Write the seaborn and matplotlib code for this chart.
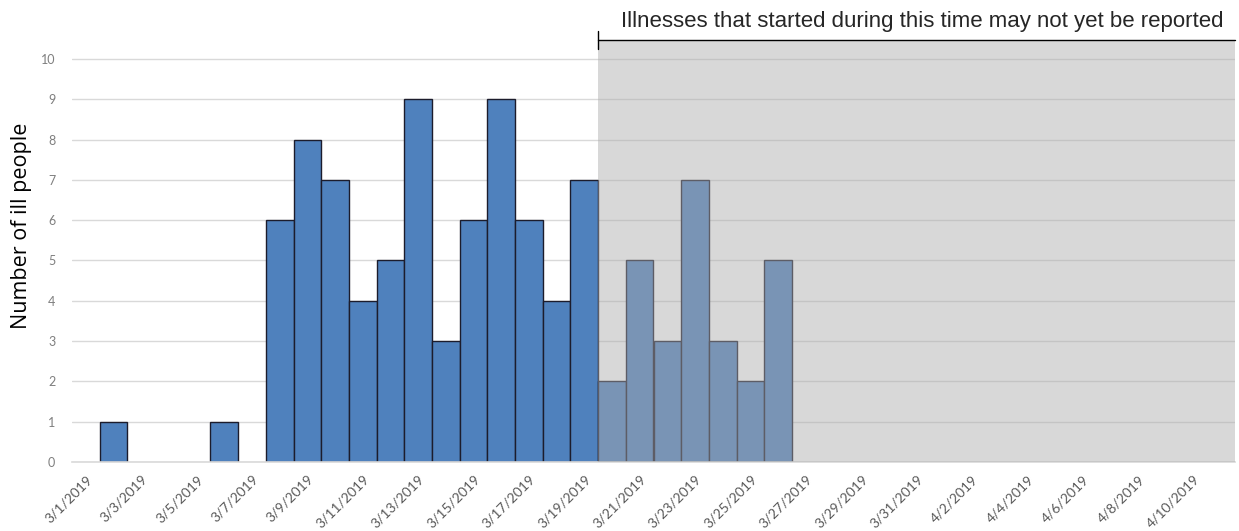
import numpy as np
import pandas as pd
import seaborn as sns
import matplotlib.pyplot as plt
import matplotlib.transforms as mtransforms

# onset dates 3/1/2019 .. 4/11/2019
dates = pd.date_range("2019-03-01", "2019-04-11", freq="D")
date_labels = [f"{d.month}/{d.day}/{d.year}" for d in dates]

# number of ill people per day of illness onset (3/1 .. 3/26, rest zero)
ill_counts = [0, 1, 0, 0, 0, 1, 0, 6, 8, 7, 4, 5, 9, 3, 6, 9, 6, 4, 7,
              2, 5, 3, 7, 3, 2, 5]
ill_counts = ill_counts + [0] * (len(dates) - len(ill_counts))

lag_start = "3/20/2019"
lag_text = "Illnesses that started during this time may not yet be reported"
ylabel = "Number of ill people"

df = pd.DataFrame({"date": date_labels, "ill": ill_counts})

sns.set_style("white")
plt.rcParams["font.family"] = ["Lato", "DejaVu Sans"]

W, H = 1239, 531
fig = plt.figure(figsize=(W / 100, H / 100), dpi=100)
ax = fig.add_axes([72 / W, 69 / H, 1163 / W, 422 / H])

sns.barplot(data=df, x="date", y="ill", order=date_labels, color="#4F81BD",
            saturation=1, width=1.0, edgecolor="#1c1c2c", linewidth=1.0, ax=ax)
for p in ax.patches:
    if p.get_height() == 0:
        p.set_visible(False)

n = len(date_labels)
ax.set_xlim(-0.5, n - 0.5)
ytop = 10.47
ax.set_ylim(0, ytop)

# shaded reporting-lag region
lag_i = date_labels.index(lag_start)
ax.axvspan(lag_i - 0.5, n - 0.5, color="#ACACAC", alpha=0.46, zorder=5, lw=0)

# grid
ax.set_yticks(range(0, 11))
ax.yaxis.grid(True, color="#D9D9D9", lw=1)
ax.set_axisbelow(True)
for s in ["left", "top", "right"]:
    ax.spines[s].set_visible(False)
ax.spines["bottom"].set_color("#D9D9D9")
ax.spines["bottom"].set_linewidth(1.2)

ax.set_xticks(range(0, n, 2))
ax.set_xticklabels(date_labels[::2], rotation=45, ha="right",
                   rotation_mode="anchor", fontsize=10, color="#595959")
shift = mtransforms.ScaledTranslation(4 / 100, 0, fig.dpi_scale_trans)
for lab in ax.get_xticklabels():
    lab.set_transform(lab.get_transform() + shift)
ax.set_xticks(np.arange(-0.5, n, 2), minor=True)
ax.tick_params(axis="x", which="major", length=0, pad=8)
ax.tick_params(axis="x", which="minor", length=5, color="#D9D9D9", width=1)
ax.tick_params(axis="y", length=0, pad=12, labelsize=9, labelcolor="#7f7f7f")

ax.set_xlabel("")
ax.set_ylabel(ylabel, fontsize=15.5, color="black",
              family=["Open Sans", "DejaVu Sans"])
ax.yaxis.set_label_coords(-0.034, 0.56)

# bracket with note
ax.plot([lag_i - 0.5, n - 0.5], [ytop, ytop], color="black", lw=1,
        clip_on=False, zorder=6)
ax.plot([lag_i - 0.5, lag_i - 0.5], [10.25, 10.7], color="black", lw=1,
        clip_on=False, zorder=6)
ax.text(30.2, 10.93, lag_text, ha="center", va="center", fontsize=16,
        family=["Liberation Sans Narrow", "Liberation Sans", "DejaVu Sans"],
        clip_on=False)

fig.savefig("out.png", dpi=100)
